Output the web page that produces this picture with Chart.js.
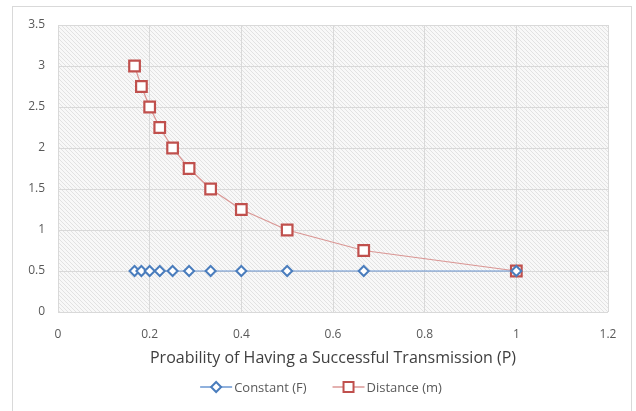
<!DOCTYPE html>
<html>
<head>
<meta charset="utf-8">
<script src="https://cdn.jsdelivr.net/npm/chart.js@4/dist/chart.umd.min.js"></script>
<style>
  html, body { margin: 0; padding: 0; background: #fff; }
  #wrap { position: relative; width: 636px; height: 411px; }
  #frame { position: absolute; left: 12px; top: 6px; width: 620px; height: 410px; border: 1px solid #d9d9d9; box-sizing: border-box; }
  canvas { position: absolute; left: 0; top: 0; }
</style>
</head>
<body>
<div id="wrap">
  <div id="frame"></div>
  <canvas id="myChart" width="636" height="411"></canvas>
</div>
<script>
// probability of a successful transmission (x) and the two series
const probability = [0.167, 0.182, 0.2, 0.222, 0.25, 0.286, 0.333, 0.4, 0.5, 0.667, 1];
const constantF = [0.5, 0.5, 0.5, 0.5, 0.5, 0.5, 0.5, 0.5, 0.5, 0.5, 0.5];
const distanceM = [3, 2.75, 2.5, 2.25, 2, 1.75, 1.5, 1.25, 1, 0.75, 0.5];
const seriesNames = ["Constant (F)", "Distance (m)"];
const xTitle = "Proability of Having a Successful Transmission (P)";

const blue = "#4a7dbd";
const red = "#c0504d";

function points(ys) {
  return probability.map(function (x, i) { return { x: x, y: ys[i] }; });
}

// light diagonal hatch behind the plot
function hatch() {
  const n = 4;
  const c = document.createElement("canvas");
  c.width = n; c.height = n;
  const g = c.getContext("2d");
  g.fillStyle = "#f8f8f8";
  g.fillRect(0, 0, n, n);
  g.strokeStyle = "#e2e2e2";
  g.lineWidth = 1;
  g.beginPath();
  g.moveTo(0, 0); g.lineTo(n, n);
  g.moveTo(-1, n - 1); g.lineTo(1, n + 1);
  g.moveTo(n - 1, -1); g.lineTo(n + 1, 1);
  g.stroke();
  return c;
}

const hatchPlugin = {
  id: "hatch",
  beforeDraw: function (chart) {
    const a = chart.chartArea, ctx = chart.ctx;
    ctx.save();
    ctx.fillStyle = ctx.createPattern(hatch(), "repeat");
    ctx.fillRect(a.left, a.top, a.right - a.left, a.bottom - a.top);
    ctx.restore();
  }
};

// legend with a short line through the marker, like the series
const lineLegend = {
  id: "lineLegend",
  afterDraw: function (chart) {
    const ctx = chart.ctx;
    const y = 387;
    ctx.save();
    ctx.font = "13px 'Open Sans'";
    ctx.textBaseline = "middle";
    const items = chart.data.datasets.map(function (ds) {
      return { ds: ds, w: 36 + ctx.measureText(ds.label).width };
    });
    const gap = 24;
    let total = items.reduce(function (s, it) { return s + it.w; }, 0) + gap * (items.length - 1);
    let x = 322 - total / 2;
    items.forEach(function (it) {
      const ds = it.ds;
      ctx.strokeStyle = ds.borderColor;
      ctx.lineWidth = 1.5;
      ctx.beginPath();
      ctx.moveTo(x, y); ctx.lineTo(x + 32, y);
      ctx.stroke();
      ctx.fillStyle = "#fff";
      ctx.strokeStyle = ds.pointBorderColor;
      ctx.lineWidth = 2;
      const cx = x + 16;
      if (ds.pointStyle === "rectRot") {
        ctx.beginPath();
        ctx.moveTo(cx, y - 5); ctx.lineTo(cx + 5, y); ctx.lineTo(cx, y + 5); ctx.lineTo(cx - 5, y);
        ctx.closePath();
        ctx.fill(); ctx.stroke();
      } else {
        ctx.fillRect(cx - 5, y - 5, 10, 10);
        ctx.strokeRect(cx - 5, y - 5, 10, 10);
      }
      ctx.fillStyle = "#595959";
      ctx.fillText(ds.label, x + 34, y + 1);
      x += it.w + gap;
    });
    ctx.restore();
  }
};

const ctx = document.getElementById("myChart").getContext("2d");
const myChart = new Chart(ctx, {
  type: "scatter",
  data: {
    datasets: [
      {
        label: seriesNames[0],
        data: points(constantF),
        showLine: true,
        borderColor: "rgba(91, 140, 205, 0.9)",
        borderWidth: 1.2,
        pointStyle: "rectRot",
        pointRadius: 5,
        pointBorderWidth: 2,
        pointBorderColor: blue,
        pointBackgroundColor: "#fff",
      },
      {
        label: seriesNames[1],
        data: points(distanceM),
        showLine: true,
        borderColor: "rgba(215, 140, 138, 0.9)",
        borderWidth: 1.2,
        pointStyle: "rect",
        pointRadius: 7.5,
        pointBorderWidth: 2.2,
        pointBorderColor: red,
        pointBackgroundColor: "#fff",
      },
    ],
  },
  options: {
    responsive: false,
    animation: false,
    layout: { padding: { left: 14, right: 28, top: 25, bottom: 39 } },
    plugins: {
      legend: { display: false },
      tooltip: { enabled: false },
    },
    scales: {
      x: {
        type: "linear",
        min: 0,
        max: 1.2,
        ticks: {
          stepSize: 0.2,
          color: "#595959",
          font: { family: "'Open Sans'", size: 12 },
          padding: 15,
          callback: function (v) { return Math.round(v * 10) / 10; },
        },
        grid: { color: "#d9d9d9", drawTicks: false },
        border: { display: false },
        title: {
          display: true,
          text: xTitle,
          color: "#404040",
          font: { family: "'Open Sans'", size: 16 },
          padding: { top: 0 },
        },
        afterFit: function (s) { s.height = 60; },
      },
      y: {
        min: 0,
        max: 3.5,
        ticks: {
          stepSize: 0.5,
          color: "#595959",
          font: { family: "'Open Sans'", size: 12 },
          padding: 13,
          callback: function (v) { return Math.round(v * 10) / 10; },
        },
        grid: { color: "#d9d9d9", drawTicks: false },
        border: { display: false },
        afterFit: function (s) { s.width = 44; },
      },
    },
  },
  plugins: [hatchPlugin, lineLegend],
});
</script>
</body>
</html>
